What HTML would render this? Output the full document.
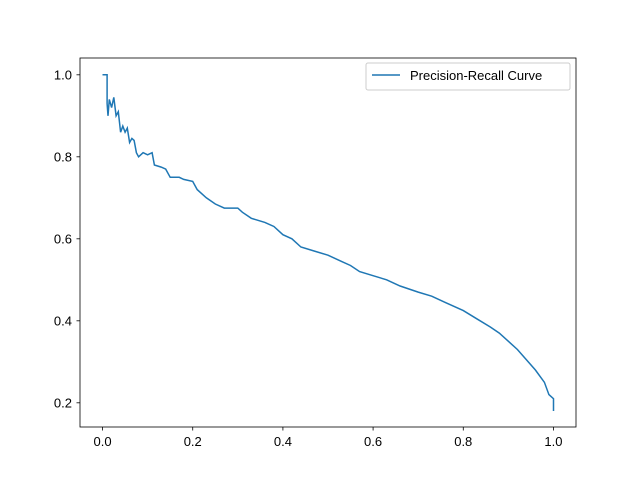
<!DOCTYPE html>
<html><head><meta charset="utf-8"><style>
body{margin:0;background:#fff;}
svg text{font-family:"Liberation Sans","DejaVu Sans",sans-serif;font-size:13px;fill:#000;}
</style></head><body>
<svg id="chart" width="640" height="480">
<rect x="0" y="0" width="640" height="480" fill="#fff"/>
<g id="ticks"></g>
<path id="curve" fill="none" stroke="#1f77b4" stroke-width="1.5"/>
<rect x="80" y="58" width="496" height="369" fill="none" stroke="#000" stroke-width="0.8"/>
<g>
<rect x="366" y="63" width="204" height="27" rx="2" fill="#fff" fill-opacity="0.8" stroke="#ccc"/>
<line x1="372" y1="75" x2="400" y2="75" stroke="#1f77b4" stroke-width="1.5"/>
<text x="410" y="80">Precision-Recall Curve</text>
</g>
</svg>
<script>
const recall=[0,0.01,0.01,0.012,0.015,0.02,0.025,0.03,0.035,0.04,0.045,0.05,0.055,0.06,0.065,0.07,0.075,0.08,0.09,0.1,0.11,0.115,0.13,0.14,0.15,0.17,0.18,0.2,0.21,0.23,0.25,0.27,0.3,0.31,0.33,0.36,0.38,0.4,0.42,0.44,0.47,0.5,0.53,0.55,0.57,0.6,0.63,0.66,0.7,0.73,0.76,0.8,0.83,0.86,0.88,0.9,0.92,0.94,0.96,0.98,0.99,1.0,1.0];
const precision=[1.0,1.0,0.93,0.90,0.94,0.92,0.945,0.9,0.91,0.86,0.875,0.86,0.87,0.835,0.845,0.84,0.81,0.80,0.81,0.805,0.81,0.78,0.775,0.77,0.75,0.75,0.745,0.74,0.72,0.70,0.685,0.675,0.675,0.665,0.65,0.64,0.63,0.61,0.6,0.58,0.57,0.56,0.545,0.535,0.52,0.51,0.5,0.485,0.47,0.46,0.445,0.425,0.405,0.385,0.37,0.35,0.33,0.305,0.28,0.25,0.22,0.21,0.18];
const xTicks=["0.0","0.2","0.4","0.6","0.8","1.0"];
const yTicks=["0.2","0.4","0.6","0.8","1.0"];
const xs=v=>80+(v+0.05)/1.1*496;
const ys=v=>58+(1.041-v)*410;
const NS="http://www.w3.org/2000/svg";
let d="";
recall.forEach((r,i)=>{d+=(i?"L":"M")+xs(r).toFixed(1)+","+ys(precision[i]).toFixed(1);});
document.getElementById("curve").setAttribute("d",d);
const g=document.getElementById("ticks");
xTicks.forEach(t=>{
 const x=xs(parseFloat(t));
 const l=document.createElementNS(NS,"line");
 l.setAttribute("x1",x);l.setAttribute("x2",x);l.setAttribute("y1",427);l.setAttribute("y2",430.5);l.setAttribute("stroke","#000");l.setAttribute("stroke-width","0.8");
 
 
 g.appendChild(l);
 const tx=document.createElementNS(NS,"text");
 tx.setAttribute("x",x);tx.setAttribute("y",446);tx.setAttribute("text-anchor","middle");tx.textContent=t;
 
 
 g.appendChild(tx);
});
yTicks.forEach(t=>{
 const y=ys(parseFloat(t));
 const l=document.createElementNS(NS,"line");
 l.setAttribute("x1",76.5);l.setAttribute("x2",80);l.setAttribute("y1",y);l.setAttribute("y2",y);l.setAttribute("stroke","#000");l.setAttribute("stroke-width","0.8");
 
 
 g.appendChild(l);
 const tx=document.createElementNS(NS,"text");
 tx.setAttribute("x",72);tx.setAttribute("y",y+4.5);tx.setAttribute("text-anchor","end");tx.textContent=t;
 
 
 g.appendChild(tx);
});
</script>
</body></html>
